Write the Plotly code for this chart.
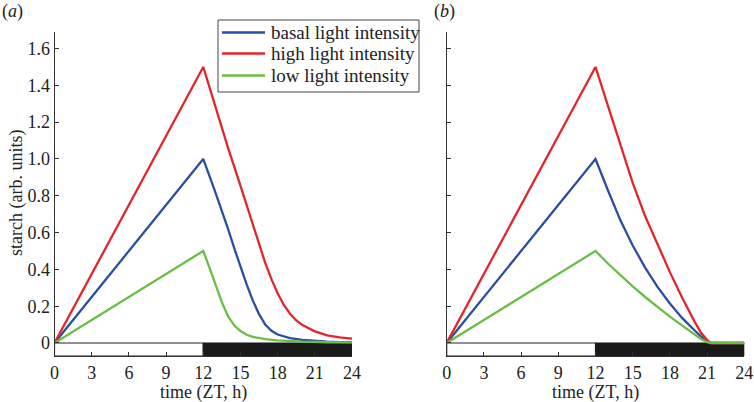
import plotly.graph_objects as go

# ---- data (a): starch time course ----
t_basal_a = [0, 12, 13, 13.5, 14, 14.5, 15, 15.5, 16, 16.5, 17, 17.5, 18, 19, 20, 21, 22, 23, 24]
basal_a = [0, 1.0, 0.815, 0.72, 0.62, 0.515, 0.41, 0.318, 0.23, 0.157, 0.10, 0.066, 0.046, 0.027, 0.017, 0.011, 0.007, 0.005, 0.004]
t_high_a = [0, 12, 13, 14, 15, 15.5, 16, 16.5, 17, 17.5, 18, 18.5, 19, 19.5, 20, 21, 22, 23, 24]
high_a = [0, 1.5, 1.28, 1.06, 0.855, 0.75, 0.64, 0.535, 0.435, 0.347, 0.27, 0.207, 0.159, 0.123, 0.097, 0.063, 0.042, 0.03, 0.024]
t_low_a = [0, 12, 12.5, 13, 13.5, 14, 14.5, 15, 15.5, 16, 17, 18, 19, 20, 22, 24]
low_a = [0, 0.5, 0.41, 0.315, 0.222, 0.145, 0.096, 0.065, 0.045, 0.033, 0.021, 0.014, 0.01, 0.007, 0.004, 0.003]

# ---- data (b) ----
t_basal_b = [0, 12, 13, 14, 15, 16, 17, 18, 19, 19.5, 20, 20.5, 21, 21.3, 22, 24]
basal_b = [0, 1.0, 0.83, 0.668, 0.53, 0.41, 0.305, 0.215, 0.135, 0.1, 0.068, 0.036, 0.01, 0.0, 0.0, 0.0]
t_high_b = [0, 12, 13, 14, 15, 16, 17, 18, 19, 19.5, 20, 20.5, 21, 21.3, 22, 24]
high_b = [0, 1.5, 1.29, 1.075, 0.87, 0.69, 0.535, 0.385, 0.245, 0.178, 0.115, 0.057, 0.016, 0.0, 0.0, 0.0]
t_low_b = [0, 12, 13, 14, 15, 16, 17, 18, 19, 19.5, 20, 20.5, 21, 21.3, 22, 24]
low_b = [0, 0.5, 0.432, 0.368, 0.308, 0.25, 0.195, 0.143, 0.094, 0.07, 0.045, 0.022, 0.005, 0.0, 0.0, 0.0]

names = ["basal light intensity", "high light intensity", "low light intensity"]
colors = ["#2b4ea2", "#e3262d", "#6abd45"]

x_ticks = [0, 3, 6, 9, 12, 15, 18, 21, 24]
y_ticks = [0, 0.2, 0.4, 0.6, 0.8, 1.0, 1.2, 1.4, 1.6]
y_ticktext = ["0", "0.2", "0.4", "0.6", "0.8", "1.0", "1.2", "1.4", "1.6"]
light_period = [0, 12]
dark_period = [12, 24]

FONT = "Liberation Serif"

fig = go.Figure()
panel_a = [(t_basal_a, basal_a), (t_high_a, high_a), (t_low_a, low_a)]
panel_b = [(t_basal_b, basal_b), (t_high_b, high_b), (t_low_b, low_b)]
for i, (tx, ty) in enumerate(panel_a):
    fig.add_trace(go.Scatter(x=tx, y=ty, mode="lines", name=names[i],
                             line=dict(color=colors[i], width=2.3),
                             xaxis="x", yaxis="y", showlegend=False))
for i, (tx, ty) in enumerate(panel_b):
    fig.add_trace(go.Scatter(x=tx, y=ty, mode="lines", name=names[i],
                             line=dict(color=colors[i], width=2.3),
                             xaxis="x2", yaxis="y2", showlegend=False))

W, H = 754, 402
ax_common = dict(showgrid=False, zeroline=False, showline=True, linecolor="#333",
                 linewidth=1, ticks="inside", ticklen=4, tickcolor="#333",
                 tickfont=dict(family=FONT, size=18, color="#222"), automargin=False)

ybottom = 1 - 356 / H
ytop = 1 - 32 / H
fig.update_layout(
    width=W, height=H,
    font=dict(family=FONT, size=18, color="#222"),
    margin=dict(l=0, r=0, t=0, b=0),
    paper_bgcolor="white", plot_bgcolor="white",
    xaxis=dict(domain=[54.5 / W, 352 / W], range=[0, 24], tickvals=x_ticks, anchor="y", **ax_common),
    yaxis=dict(domain=[ybottom, ytop], range=[-0.0707, 1.69], tickvals=y_ticks, ticktext=y_ticktext,
               anchor="x", **ax_common),
    xaxis2=dict(domain=[446.7 / W, 744.3 / W], range=[0, 24], tickvals=x_ticks, anchor="y2", **ax_common),
    yaxis2=dict(domain=[ybottom, ytop], range=[-0.0707, 1.69], tickvals=y_ticks, showticklabels=False,
                anchor="x2", **ax_common),
    showlegend=False,
)

# light/dark bars
for xr, yr in [("x", "y"), ("x2", "y2")]:
    fig.add_shape(type="rect", xref=xr, yref=yr, x0=light_period[0], x1=light_period[1],
                  y0=-0.0707, y1=0, fillcolor="white", line=dict(color="#222", width=1.2), layer="below")
    fig.add_shape(type="rect", xref=xr, yref=yr, x0=dark_period[0], x1=dark_period[1],
                  y0=-0.0707, y1=0, fillcolor="#1a1a1a", line=dict(color="#1a1a1a", width=1), layer="below")

tfont = dict(family=FONT, size=18, color="#222")


def px(x):
    return x / W


def py(y):
    return 1 - y / H


# legend box (drawn in paper coordinates)
fig.add_shape(type="rect", xref="paper", yref="paper", x0=px(218), x1=px(419), y0=py(92), y1=py(20),
              fillcolor="white", line=dict(color="#444", width=1))
legend_rows = [32.5, 53.5, 75.5]
for i, yy in enumerate(legend_rows):
    fig.add_shape(type="line", xref="paper", yref="paper", x0=px(222), x1=px(265), y0=py(yy), y1=py(yy),
                  line=dict(color=colors[i], width=2.4))
    fig.add_annotation(text=names[i], x=px(269), y=py(yy), xref="paper", yref="paper",
                       showarrow=False, font=dict(family=FONT, size=19, color="#222"),
                       xanchor="left", yanchor="middle")

fig.add_annotation(text="starch (arb. units)", x=16 / W, y=1 - 193 / H, xref="paper", yref="paper",
                   textangle=-90, showarrow=False, font=tfont, xanchor="center", yanchor="middle")
fig.add_annotation(text="time (ZT, h)", x=203 / W, y=1 - 392 / H, xref="paper", yref="paper",
                   showarrow=False, font=tfont, xanchor="center", yanchor="middle")
fig.add_annotation(text="time (ZT, h)", x=595 / W, y=1 - 392 / H, xref="paper", yref="paper",
                   showarrow=False, font=tfont, xanchor="center", yanchor="middle")
fig.add_annotation(text="(<i>a</i>)", x=12 / W, y=1 - 12 / H, xref="paper", yref="paper",
                   showarrow=False, font=tfont, xanchor="center", yanchor="middle")
fig.add_annotation(text="(<i>b</i>)", x=444 / W, y=1 - 12 / H, xref="paper", yref="paper",
                   showarrow=False, font=tfont, xanchor="center", yanchor="middle")

fig.write_html("out.html", config={"displayModeBar": False},
               post_script="document.body.style.margin='0';document.body.style.padding='0';")
